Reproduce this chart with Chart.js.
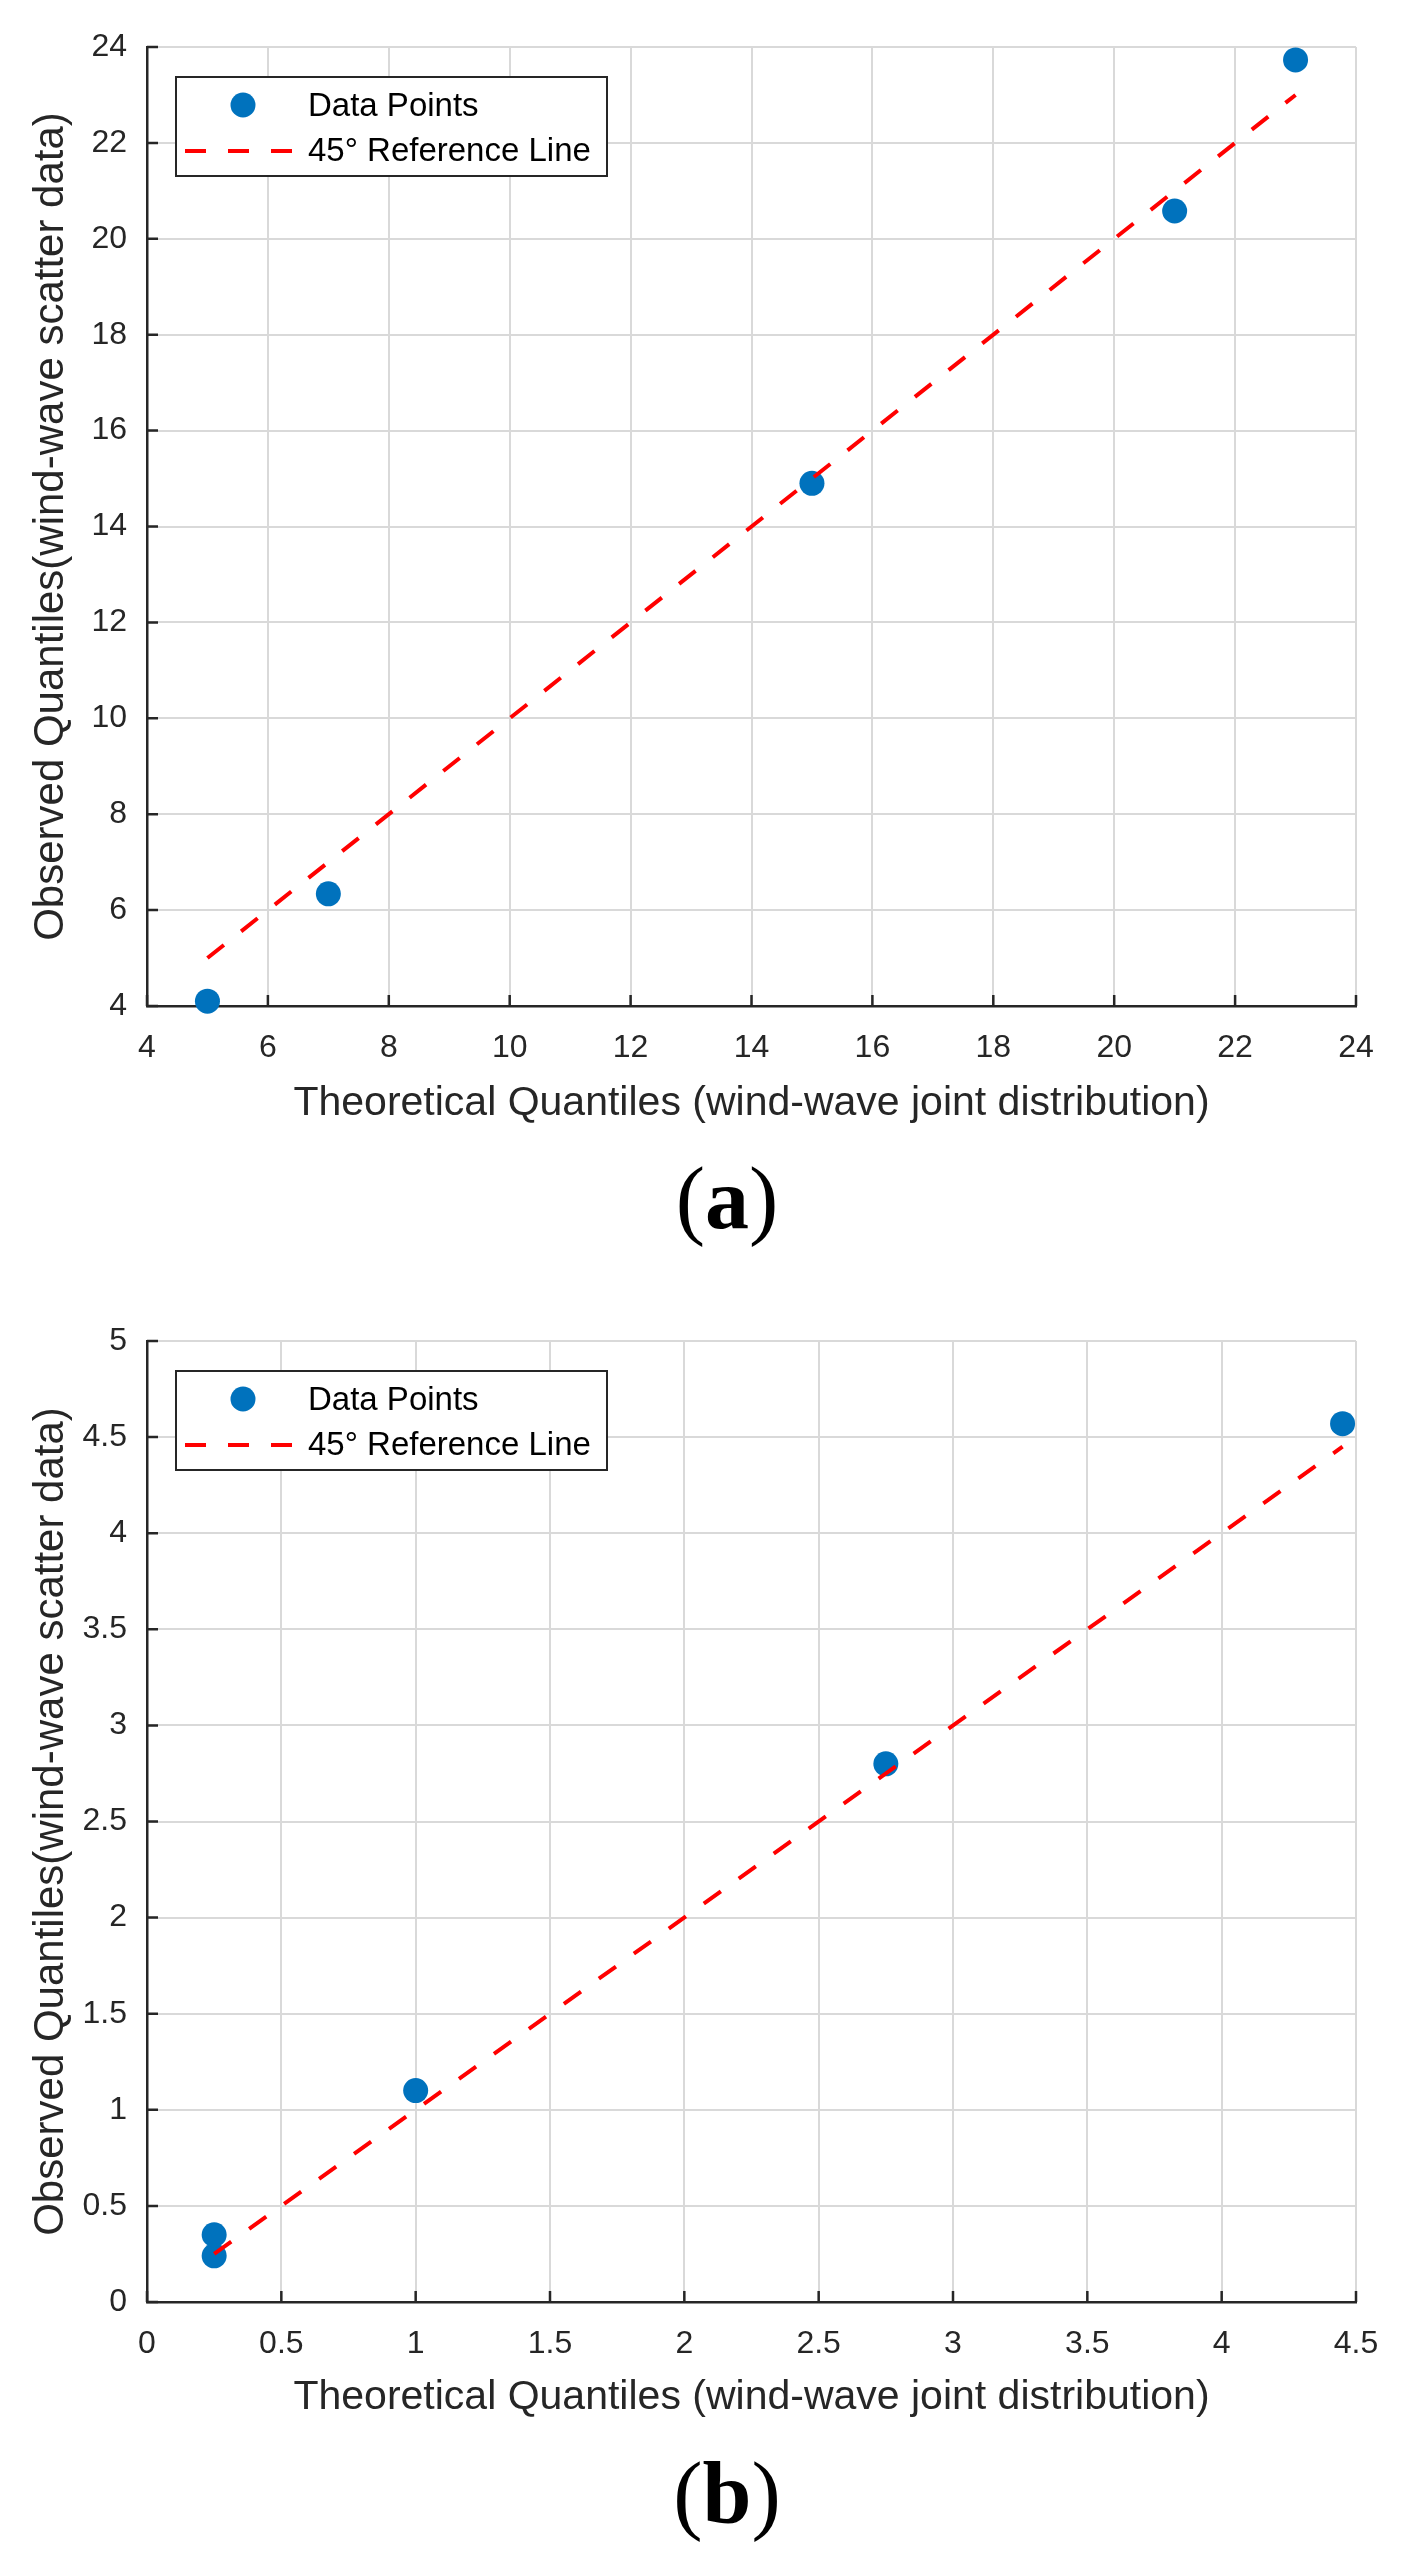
<!DOCTYPE html>
<html>
<head>
<meta charset="utf-8">
<script src="https://cdn.jsdelivr.net/npm/chart.js@4.4.1/dist/chart.umd.min.js"></script>
<style>
  html, body { margin: 0; padding: 0; background: #ffffff; }
  body { width: 1408px; height: 2567px; position: relative; overflow: hidden; }
  canvas { position: absolute; left: 0; }
  .panel { position: absolute; left: 527px; width: 400px; text-align: center;
           font-family: "Liberation Serif", "Times New Roman", serif; font-size: 88px;
           line-height: 88px; color: #000; }
</style>
</head>
<body>
<canvas id="chartA" width="1408" height="1150" style="top:0px"></canvas>
<canvas id="chartB" width="1408" height="1150" style="top:1294px"></canvas>
<div class="panel" style="top:1155px">(<b>a</b>)</div>
<div class="panel" style="top:2450px">(<b>b</b>)</div>
<script>
// ---------- data (a) ----------
const theoA = [5, 7, 15, 21, 23];
const obsA = [4.1, 6.34, 14.9, 20.58, 23.73];
const refA = [5, 23];
const xTicksA = [4, 6, 8, 10, 12, 14, 16, 18, 20, 22, 24];
const yTicksA = [4, 6, 8, 10, 12, 14, 16, 18, 20, 22, 24];
const xTickLabelsA = ["4", "6", "8", "10", "12", "14", "16", "18", "20", "22", "24"];
const yTickLabelsA = ["4", "6", "8", "10", "12", "14", "16", "18", "20", "22", "24"];

// ---------- data (b) ----------
const theoB = [0.25, 0.25, 1, 2.75, 4.45];
const obsB = [0.24, 0.35, 1.1, 2.8, 4.57];
const refB = [0.25, 4.45];
const xTicksB = [0, 0.5, 1, 1.5, 2, 2.5, 3, 3.5, 4, 4.5];
const yTicksB = [0, 0.5, 1, 1.5, 2, 2.5, 3, 3.5, 4, 4.5, 5];
const xTickLabelsB = ["0", "0.5", "1", "1.5", "2", "2.5", "3", "3.5", "4", "4.5"];
const yTickLabelsB = ["0", "0.5", "1", "1.5", "2", "2.5", "3", "3.5", "4", "4.5", "5"];

const seriesNames = ["Data Points", "45\u00B0 Reference Line"];
const xTitle = "Theoretical Quantiles (wind-wave joint distribution)";
const yTitle = "Observed Quantiles(wind-wave scatter data)";

const FONT = '"Liberation Sans", Arial, Helvetica, sans-serif';
const TEXT = '#262626';
const BLUE = '#0072BD';
const RED = '#FF0000';

// inward tick marks (MATLAB style)
const inwardTicks = {
  id: 'inwardTicks',
  afterDraw(chart) {
    const ctx = chart.ctx, a = chart.chartArea;
    const xs = chart.scales.x, ys = chart.scales.y;
    ctx.save();
    ctx.strokeStyle = TEXT;
    ctx.lineWidth = 2.5;
    ctx.beginPath();
    xs.ticks.forEach(t => {
      const p = xs.getPixelForValue(t.value);
      ctx.moveTo(p, a.bottom);
      ctx.lineTo(p, a.bottom - 11);
    });
    ys.ticks.forEach(t => {
      const p = ys.getPixelForValue(t.value);
      ctx.moveTo(a.left, p);
      ctx.lineTo(a.left + 11, p);
    });
    ctx.stroke();
    ctx.restore();
  }
};

// boxed legend inside the axes
const boxLegend = {
  id: 'boxLegend',
  afterDraw(chart) {
    const ctx = chart.ctx, a = chart.chartArea;
    const dsPts = chart.data.datasets[0], dsLine = chart.data.datasets[1];
    const L = a.left + 29, T = a.top + 30, W = 431, H = 99;
    ctx.save();
    ctx.fillStyle = '#ffffff';
    ctx.fillRect(L, T, W, H);
    ctx.strokeStyle = TEXT;
    ctx.lineWidth = 2;
    ctx.strokeRect(L, T, W, H);
    // marker
    ctx.fillStyle = dsPts.backgroundColor;
    ctx.beginPath();
    ctx.arc(L + 67, T + 28, 12.5, 0, Math.PI * 2);
    ctx.fill();
    // dashed line sample
    ctx.strokeStyle = dsLine.borderColor;
    ctx.lineWidth = dsLine.borderWidth;
    ctx.setLineDash(dsLine.borderDash);
    ctx.beginPath();
    ctx.moveTo(L + 9, T + 74);
    ctx.lineTo(L + 120, T + 74);
    ctx.stroke();
    ctx.setLineDash([]);
    // texts
    ctx.fillStyle = '#000000';
    ctx.font = '33px ' + FONT;
    ctx.textAlign = 'left';
    ctx.textBaseline = 'middle';
    ctx.fillText(dsPts.label, L + 132, T + 30);
    ctx.fillText(dsLine.label, L + 132, T + 75);
    ctx.restore();
  }
};

function makeChart(id, xs, ys, ref, xT, yT, xL, yL, plotBottom) {
  const canvasH = 1150;
  const pts = xs.map((x, i) => ({ x: x, y: ys[i] }));
  const line = ref.map(v => ({ x: v, y: v }));
  return new Chart(document.getElementById(id), {
    type: 'scatter',
    data: {
      datasets: [
        {
          label: seriesNames[0],
          data: pts,
          backgroundColor: BLUE,
          borderColor: BLUE,
          borderWidth: 0,
          pointRadius: 12.5,
          pointHoverRadius: 12.5,
          order: 2
        },
        {
          label: seriesNames[1],
          data: line,
          showLine: true,
          borderColor: RED,
          backgroundColor: RED,
          borderWidth: 4,
          borderDash: [21, 22],
          pointRadius: 0,
          pointHoverRadius: 0,
          fill: false,
          order: 1
        }
      ]
    },
    options: {
      responsive: false,
      devicePixelRatio: 1,
      animation: false,
      events: [],
      clip: false,
      layout: { padding: { top: 47, right: 52, left: 0, bottom: 0 } },
      plugins: {
        legend: { display: false },
        tooltip: { enabled: false }
      },
      scales: {
        x: {
          type: 'linear',
          position: 'bottom',
          min: xT[0],
          max: xT[xT.length - 1],
          afterBuildTicks: s => { s.ticks = xT.map(v => ({ value: v })); },
          afterFit: s => { s.height = canvasH - plotBottom; },
          ticks: {
            autoSkip: false,
            maxRotation: 0,
            padding: 23,
            color: TEXT,
            font: { family: FONT, size: 32 },
            callback: (v, i) => xL[i]
          },
          grid: { color: '#d9d9d9', lineWidth: 2, drawTicks: false },
          border: { display: true, color: TEXT, width: 2.5 },
          title: {
            display: true,
            text: xTitle,
            color: TEXT,
            font: { family: FONT, size: 41 },
            padding: { top: 0, bottom: 22 }
          }
        },
        y: {
          type: 'linear',
          position: 'left',
          min: yT[0],
          max: yT[yT.length - 1],
          afterBuildTicks: s => { s.ticks = yT.map(v => ({ value: v })); },
          afterFit: s => { s.width = 147; },
          ticks: {
            autoSkip: false,
            padding: 20,
            color: TEXT,
            font: { family: FONT, size: 32 },
            callback: (v, i) => yL[i]
          },
          grid: { color: '#d9d9d9', lineWidth: 2, drawTicks: false },
          border: { display: true, color: TEXT, width: 2.5 },
          title: {
            display: true,
            text: yTitle,
            color: TEXT,
            font: { family: FONT, size: 42 },
            padding: { top: 26, bottom: 0 }
          }
        }
      }
    },
    plugins: [inwardTicks, boxLegend]
  });
}

makeChart('chartA', theoA, obsA, refA, xTicksA, yTicksA, xTickLabelsA, yTickLabelsA, 1006);
makeChart('chartB', theoB, obsB, refB, xTicksB, yTicksB, xTickLabelsB, yTickLabelsB, 1008);
</script>
</body>
</html>
